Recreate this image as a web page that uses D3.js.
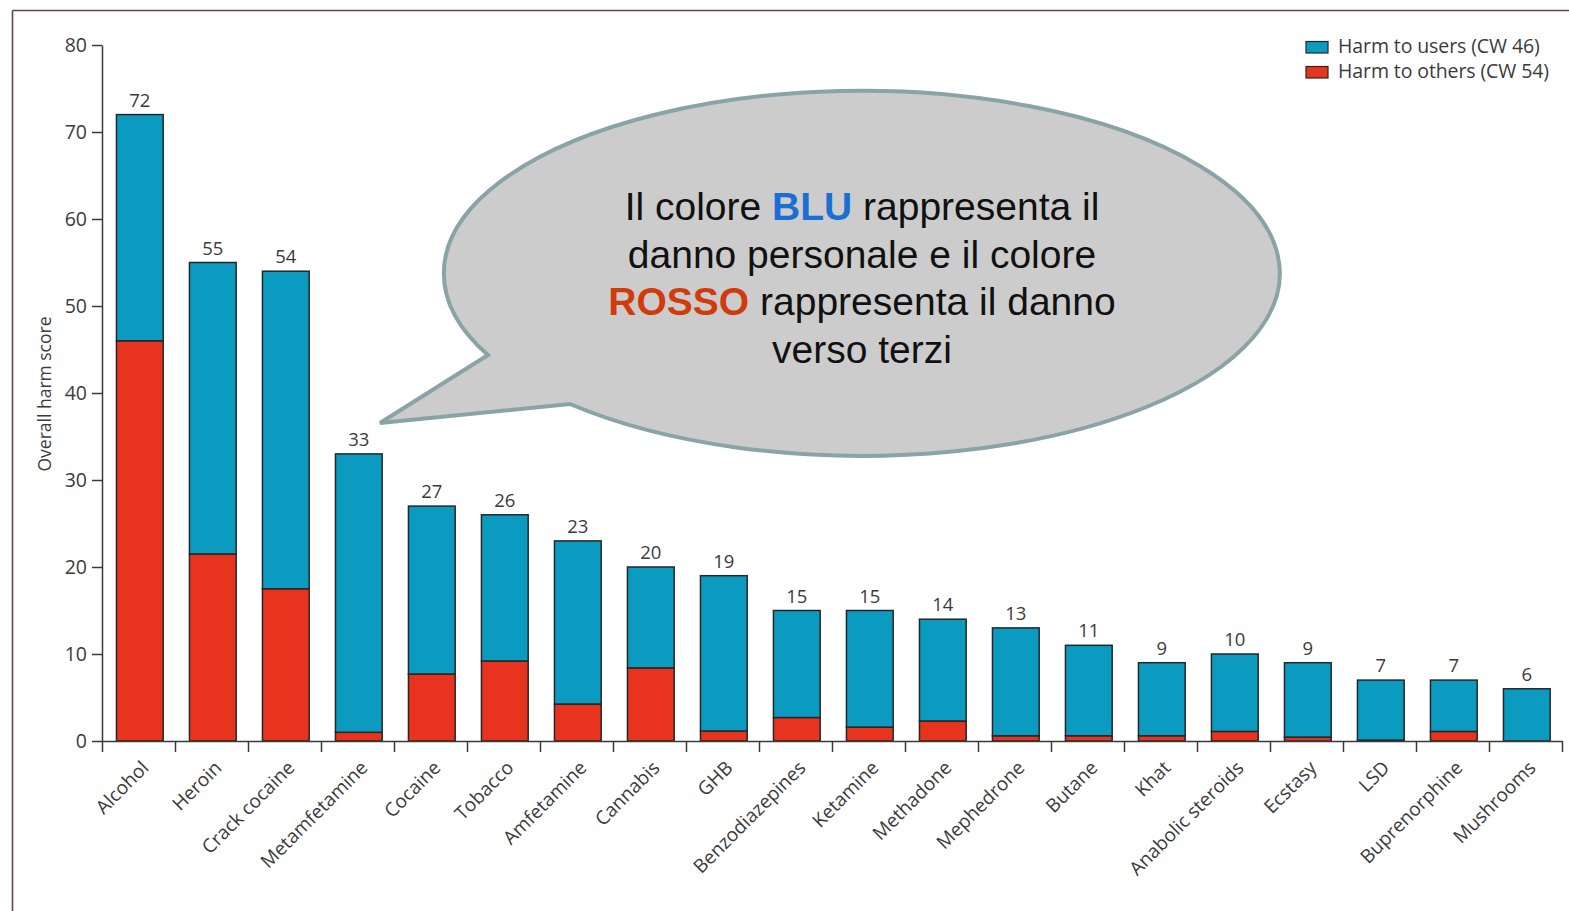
<!DOCTYPE html>
<html>
<head>
<meta charset="utf-8">
<script src="https://cdn.jsdelivr.net/npm/d3@7"></script>
<style>
  body { margin: 0; background: #ffffff; }
  svg { display: block; }
</style>
</head>
<body>
<svg id="chart" width="1569" height="911"></svg>
<script>
// Drugs ranked by overall harm score
const drugs = [
  "Alcohol", "Heroin", "Crack cocaine", "Metamfetamine", "Cocaine", "Tobacco",
  "Amfetamine", "Cannabis", "GHB", "Benzodiazepines", "Ketamine", "Methadone",
  "Mephedrone", "Butane", "Khat", "Anabolic steroids", "Ecstasy", "LSD",
  "Buprenorphine", "Mushrooms"
];
// Part of the score due to harm to the users themselves
const harmToUsers = [
  26, 33.5, 36.5, 32, 19.3, 16.8, 18.75, 11.6, 17.85, 12.3,
  13.4, 11.7, 12.4, 10.4, 8.4, 8.9, 8.55, 6.9, 5.9, 6
];
// Part of the score due to harm to others
const harmToOthers = [
  46, 21.5, 17.5, 1, 7.7, 9.2, 4.25, 8.4, 1.15, 2.7,
  1.6, 2.3, 0.6, 0.6, 0.6, 1.1, 0.45, 0.1, 1.1, 0
];
const yTicks = [0, 10, 20, 30, 40, 50, 60, 70, 80];
const yTitle = "Overall harm score";
const legendLabels = ["Harm to users (CW 46)", "Harm to others (CW 54)"];

// Callout text, line by line, with highlighted words
const calloutLines = [
  [{ t: "Il colore " }, { t: "BLU", k: "blue" }, { t: " rappresenta il" }],
  [{ t: "danno personale e il colore" }],
  [{ t: "ROSSO", k: "red" }, { t: " rappresenta il danno" }],
  [{ t: "verso terzi" }]
];

const COLORS = { users: "#0b9bc1", others: "#e8331f" };
const INK = "#3b3b3b";
const AXIS = "#3a3a3a";
const FONT = "'Open Sans', 'Noto Sans', sans-serif";

const svg = d3.select("#chart");

// Frame lines along the top and left edge
svg.append("line").attr("x1", 12.5).attr("y1", 10.5).attr("x2", 1569).attr("y2", 10.5)
  .attr("stroke", "#6b3d5c").attr("stroke-width", 1.6);
svg.append("line").attr("x1", 12.5).attr("y1", 10.5).attr("x2", 12.5).attr("y2", 911)
  .attr("stroke", "#6b3d5c").attr("stroke-width", 1.6);

const plot = { left: 102, right: 1562, top: 45, bottom: 741 };

const data = drugs.map((d, i) => ({
  drug: d,
  others: harmToOthers[i],
  users: harmToUsers[i],
  total: harmToOthers[i] + harmToUsers[i]
}));

const x = d3.scaleBand()
  .domain(drugs)
  .range([plot.left, plot.right])
  .paddingInner(0.36)
  .paddingOuter(0.18)
  .align(0.55);

const y = d3.scaleLinear().domain([0, 80]).range([plot.bottom, plot.top]);

const series = d3.stack().keys(["others", "users"])(data);

// Stacked bars
const g = svg.append("g");
g.selectAll("g.series")
  .data(series)
  .join("g")
  .attr("class", "series")
  .attr("fill", s => COLORS[s.key])
  .selectAll("rect")
  .data(s => s.filter(d => d[1] - d[0] > 0))
  .join("rect")
  .attr("x", d => x(d.data.drug))
  .attr("width", x.bandwidth())
  .attr("y", d => y(d[1]))
  .attr("height", d => y(d[0]) - y(d[1]))
  .attr("stroke", "#262626")
  .attr("stroke-width", 1.5);

// Total labels above the bars
g.selectAll("text.total")
  .data(data)
  .join("text")
  .attr("class", "total")
  .attr("x", d => x(d.drug) + x.bandwidth() / 2)
  .attr("y", d => y(d.total) - 8)
  .attr("text-anchor", "middle")
  .attr("font-family", FONT)
  .attr("font-size", 18.5)
  .attr("fill", INK)
  .text(d => d3.format(".0f")(d.total));

// Y axis
const yAxis = svg.append("g")
  .attr("transform", `translate(${plot.left},0)`)
  .call(d3.axisLeft(y).tickValues(yTicks).tickSize(10).tickPadding(5).tickSizeOuter(0));
yAxis.select(".domain").attr("stroke", AXIS).attr("stroke-width", 1.5);
yAxis.selectAll(".tick line").attr("stroke", AXIS).attr("stroke-width", 1.5);
yAxis.selectAll(".tick text")
  .attr("font-family", FONT).attr("font-size", 19.5).attr("fill", INK);

// X axis: baseline with boundary ticks between categories
const xEdges = d3.scaleLinear().domain([0, drugs.length]).range([plot.left, plot.right]);
const xAxis = svg.append("g")
  .attr("transform", `translate(0,${plot.bottom})`)
  .call(d3.axisBottom(xEdges).tickValues(d3.range(0, drugs.length + 1)).tickSize(11).tickSizeOuter(0).tickFormat(""));
xAxis.select(".domain").attr("stroke", AXIS).attr("stroke-width", 1.5);
xAxis.selectAll(".tick line").attr("stroke", AXIS).attr("stroke-width", 1.5);

// Category labels, rotated
svg.append("g").selectAll("text")
  .data(drugs)
  .join("text")
  .attr("transform", d => `translate(${x(d) + x.bandwidth() / 2 + 10},${plot.bottom + 28}) rotate(-45)`)
  .attr("text-anchor", "end")
  .attr("font-family", FONT)
  .attr("font-size", 19)
  .attr("fill", INK)
  .text(d => d);

// Y axis title
svg.append("text")
  .attr("transform", "translate(51,394) rotate(-90)")
  .attr("text-anchor", "middle")
  .attr("font-family", FONT)
  .attr("font-size", 17.5)
  .attr("fill", INK)
  .text(yTitle);

// Legend
const legend = svg.append("g").attr("transform", "translate(1306,41.5)");
const legendKeys = ["users", "others"];
legendKeys.forEach((k, i) => {
  const row = legend.append("g").attr("transform", `translate(0,${i * 25})`);
  row.append("rect").attr("width", 22).attr("height", 11.5)
    .attr("fill", COLORS[k]).attr("stroke", "#262626").attr("stroke-width", 1.2);
  row.append("text").attr("x", 32).attr("y", 11.5)
    .attr("font-family", FONT).attr("font-size", 19.5).attr("fill", INK)
    .attr("letter-spacing", -0.1)
    .text(legendLabels[i]);
});

// Speech-bubble callout
const rx = 418, ry = 182.5;
const tip = [380, 423];
const a1 = [488, 355], a2 = [570, 404];
svg.append("path")
  .attr("d", `M${a1[0]},${a1[1]} L${tip[0]},${tip[1]} L${a2[0]},${a2[1]} A${rx},${ry} 0 1 0 ${a1[0]},${a1[1]} Z`)
  .attr("fill", "#cccccc")
  .attr("stroke", "#8aa3a7")
  .attr("stroke-width", 4)
  .attr("stroke-linejoin", "miter");

const callout = svg.append("text")
  .attr("text-anchor", "middle")
  .attr("font-family", "'Liberation Sans', Arial, sans-serif")
  .attr("font-size", 39)
  .attr("fill", "#111111");
calloutLines.forEach((line, i) => {
  const lineText = callout.append("tspan").attr("x", 862).attr("y", 220 + i * 47.5);
  line.forEach(seg => {
    const s = lineText.append("tspan").text(seg.t);
    if (seg.k === "blue") s.attr("fill", "#1a6fd4").attr("font-weight", "bold");
    if (seg.k === "red") s.attr("fill", "#d13b0c").attr("font-weight", "bold");
  });
});
</script>
</body>
</html>
